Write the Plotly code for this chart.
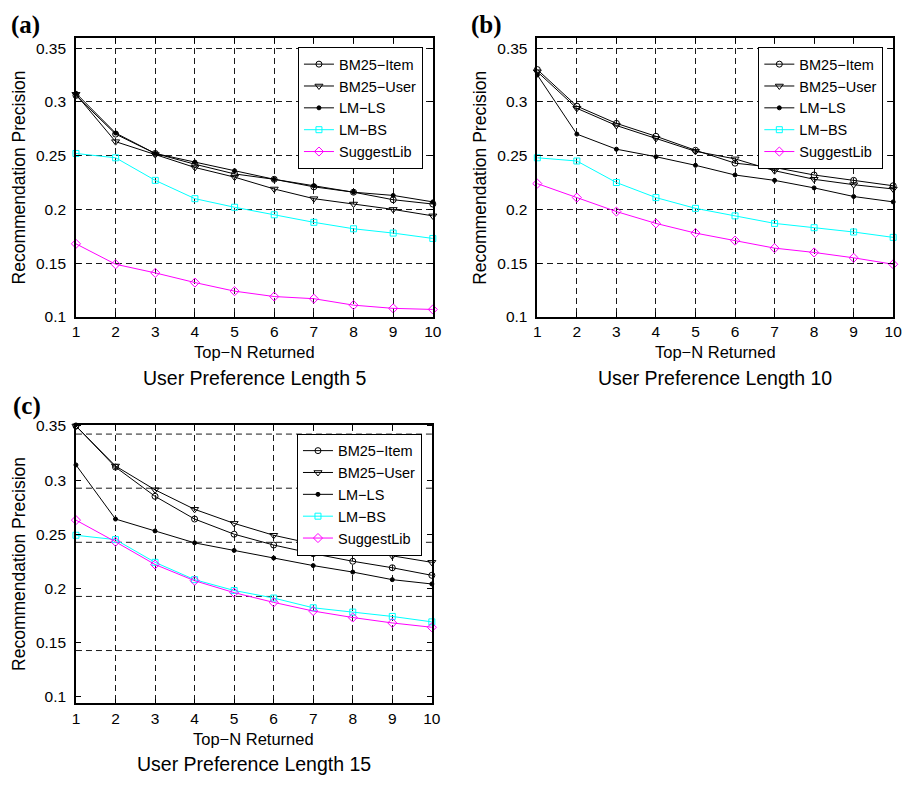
import plotly.graph_objects as go

# ---- data -------------------------------------------------------------
TOP_N = [1, 2, 3, 4, 5, 6, 7, 8, 9, 10]
SERIES_NAMES = ["BM25\u2212Item", "BM25\u2212User", "LM\u2212LS", "LM\u2212BS", "SuggestLib"]
Y_TICKS = [0.1, 0.15, 0.2, 0.25, 0.3, 0.35]
Y_LABELS = ["0.1", "0.15", "0.2", "0.25", "0.3", "0.35"]
CAPTIONS = ["User Preference Length 5", "User Preference Length 10", "User Preference Length 15"]
PANEL_TAGS = ["(a)", "(b)", "(c)"]

# preference length 5
ITEM_5 = [0.306, 0.270, 0.252, 0.242, 0.233, 0.228, 0.221, 0.216, 0.209, 0.205]
USER_5 = [0.307, 0.263, 0.251, 0.239, 0.230, 0.219, 0.210, 0.205, 0.200, 0.194]
LS_5 = [0.308, 0.271, 0.252, 0.244, 0.236, 0.228, 0.222, 0.216, 0.213, 0.207]
BS_5 = [0.252, 0.248, 0.227, 0.210, 0.202, 0.195, 0.188, 0.182, 0.178, 0.173]
SL_5 = [0.168, 0.149, 0.141, 0.132, 0.124, 0.119, 0.117, 0.111, 0.108, 0.107]

# preference length 10
ITEM_10 = [0.330, 0.296, 0.280, 0.268, 0.255, 0.243, 0.239, 0.232, 0.227, 0.222]
USER_10 = [0.328, 0.294, 0.278, 0.266, 0.254, 0.247, 0.236, 0.228, 0.223, 0.219]
LS_10 = [0.325, 0.270, 0.256, 0.249, 0.241, 0.232, 0.227, 0.220, 0.212, 0.207]
BS_10 = [0.248, 0.245, 0.225, 0.211, 0.201, 0.194, 0.187, 0.183, 0.179, 0.174]
SL_10 = [0.224, 0.211, 0.198, 0.187, 0.178, 0.171, 0.164, 0.160, 0.155, 0.149]

# preference length 15
ITEM_15 = [0.350, 0.312, 0.285, 0.264, 0.250, 0.240, 0.232, 0.225, 0.219, 0.212]
USER_15 = [0.350, 0.313, 0.291, 0.273, 0.260, 0.249, 0.241, 0.235, 0.230, 0.224]
LS_15 = [0.314, 0.264, 0.253, 0.242, 0.235, 0.228, 0.221, 0.215, 0.208, 0.204]
BS_15 = [0.249, 0.245, 0.224, 0.208, 0.198, 0.191, 0.182, 0.178, 0.174, 0.169]
SL_15 = [0.263, 0.243, 0.222, 0.207, 0.196, 0.187, 0.179, 0.173, 0.168, 0.164]

PANEL_DATA = [
    [ITEM_5, USER_5, LS_5, BS_5, SL_5],
    [ITEM_10, USER_10, LS_10, BS_10, SL_10],
    [ITEM_15, USER_15, LS_15, BS_15, SL_15],
]

# ---- styling ----------------------------------------------------------
W, H = 915, 787
SANS = "Liberation Sans, Arial, Helvetica, sans-serif"
SERIF = "Liberation Serif, Times New Roman, serif"
GRID_DASH = "6px,4px"
TICK_FONT = 15.5

STYLES = [
    dict(color="black", symbol="circle-open", size=6),
    dict(color="black", symbol="triangle-down-open", size=7),
    dict(color="black", symbol="circle", size=4),
    dict(color="#00FFFF", symbol="square-open", size=6),
    dict(color="#FF00FF", symbol="diamond-open", size=7),
]

# pixel boxes of the three plot areas (left, right, top, bottom)
BOXES = [(73, 435, 32, 316), (541, 902, 32, 316), (73, 434, 426, 710)]
Y_RANGES = [[0.1, 0.359], [0.1, 0.359], [0.0936, 0.351]]
# the third panel's horizontal grid sits slightly below its tick labels
GRID_SHIFTS = [0.0, 0.0, 0.0075]


def px(x):
    return x / W


def py(y):
    return 1 - y / H


fig = go.Figure()
layout = dict(
    width=W, height=H,
    margin=dict(l=0, r=0, t=0, b=0),
    paper_bgcolor="white", plot_bgcolor="white",
    font=dict(family=SANS, color="black"),
    showlegend=True,
)
annotations = []
shapes = []

for p, (x0, x1, y0, y1) in enumerate(BOXES):
    sfx = "" if p == 0 else str(p + 1)
    xa, ya = "x" + sfx, "y" + sfx
    legend_id = "legend" + sfx

    for k, (name, st) in enumerate(zip(SERIES_NAMES, STYLES)):
        fig.add_trace(go.Scatter(
            x=TOP_N, y=PANEL_DATA[p][k], name=name,
            mode="lines+markers", xaxis=xa, yaxis=ya, legend=legend_id,
            line=dict(color=st["color"], width=1),
            marker=dict(symbol=st["symbol"], size=st["size"], color=st["color"],
                        line=dict(color=st["color"], width=1)),
            cliponaxis=False,
        ))

    shifted = GRID_SHIFTS[p] != 0.0
    layout["xaxis" + sfx] = dict(
        domain=[px(x0), px(x1)], anchor=ya, range=[1, 10],
        tickvals=TOP_N, ticktext=[str(v) for v in TOP_N],
        ticks="inside", ticklen=5, tickcolor="black", tickwidth=1,
        showline=True, linecolor="black", linewidth=1.5, mirror="ticks",
        showgrid=True, gridcolor="#1a1a1a", gridwidth=1, griddash=GRID_DASH,
        zeroline=False, tickfont=dict(family=SANS, size=TICK_FONT), ticklabelstandoff=0,
    )
    layout["yaxis" + sfx] = dict(
        domain=[py(y1), py(y0)], anchor=xa, range=Y_RANGES[p],
        tickvals=Y_TICKS, ticktext=Y_LABELS,
        ticks="inside", ticklen=5, tickcolor="black", tickwidth=1,
        showline=True, linecolor="black", linewidth=1.5, mirror="ticks",
        showgrid=not shifted, gridcolor="#1a1a1a", gridwidth=1, griddash=GRID_DASH,
        zeroline=False, tickfont=dict(family=SANS, size=TICK_FONT), ticklabelstandoff=5,
    )
    if shifted:
        lo, hi = Y_RANGES[p]
        for v in Y_TICKS:
            g = v - GRID_SHIFTS[p]
            if lo < g < hi:
                shapes.append(dict(
                    type="line", xref=xa + " domain", yref=ya,
                    x0=0, x1=1, y0=g, y1=g, layer="below",
                    line=dict(color="#1a1a1a", width=1, dash=GRID_DASH),
                ))

    layout[legend_id] = dict(
        x=px(x1 - 10), y=py(y0 + 9), xanchor="right", yanchor="top",
        bgcolor="white", bordercolor="black", borderwidth=1,
        font=dict(family=SANS, size=14.5), tracegroupgap=0,
    )

    cx = (x0 + x1) / 2
    annotations += [
        dict(text="Top\u2212N Returned", x=px(cx), y=py(y1 + 36),
             xref="paper", yref="paper", showarrow=False,
             font=dict(family=SANS, size=16.5), xanchor="center", yanchor="middle"),
        dict(text=CAPTIONS[p], x=px(cx), y=py(y1 + 62),
             xref="paper", yref="paper", showarrow=False,
             font=dict(family=SANS, size=19.5), xanchor="center", yanchor="middle"),
        dict(text="Recommendation Precision", x=px(x0 - 58), y=py((y0 + y1) / 2),
             xref="paper", yref="paper", showarrow=False, textangle=-90,
             font=dict(family=SANS, size=17.5), xanchor="center", yanchor="middle"),
    ]

# panel tags
TAG_POS = [(5, 18), (472, 18), (7, 407)]
for tag, (tx, ty) in zip(PANEL_TAGS, TAG_POS):
    annotations.append(dict(
        text="<b>" + tag + "</b>", x=px(tx), y=py(ty), xref="paper", yref="paper",
        showarrow=False, xanchor="left", yanchor="middle",
        font=dict(family=SERIF, size=25, color="black"),
    ))

layout["annotations"] = annotations
layout["shapes"] = shapes
fig.update_layout(**layout)
fig.write_html("out.html")
